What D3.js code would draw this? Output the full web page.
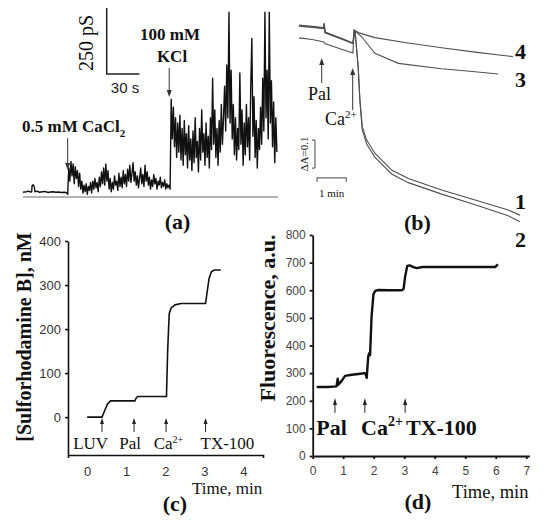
<!DOCTYPE html>
<html><head><meta charset="utf-8">
<script src="https://cdn.jsdelivr.net/npm/d3@7"></script>
<style>body{margin:0;background:#fff}svg{display:block}</style>
</head><body><svg id="chart" width="550" height="523"></svg>
<script>
// ---------- Panel (a): conductance trace (pS vs s) ----------
const aBaseT = [0, 3, 5, 7, 8, 8.2, 8.6, 9.3, 10, 10.5, 10.8, 11, 13, 15, 18, 20, 23, 25, 28, 30, 33, 35, 38, 40, 41];
const aBaseG = [18, 20, 22, 19, 20, 38, 45, 46, 43, 35, 22, 20, 22, 18, 20, 21, 17, 19, 20, 18, 19, 17, 18, 16, 10];
const aLowStart = 42;   // s, one sample per second after CaCl2
const aLow = [110, 60, 135, 80, 125, 50, 115, 70, 100, 40,
  90, 30, 60, 15, 45, 20, 50, 10, 40, 25,
  55, 15, 60, 30, 70, 35, 55, 20, 75, 40,
  95, 50, 110, 45, 125, 60, 100, 30, 70, 20,
  55, 30, 80, 45, 60, 25, 90, 40, 75, 35,
  100, 50, 85, 40, 105, 60, 120, 55, 90, 130,
  60, 95, 45, 80, 35, 70, 110, 50, 85, 40,
  120, 60, 95, 45, 75, 30, 65, 40, 85, 50,
  70, 30, 60, 45, 75, 35, 55, 40, 65, 30,
  50, 35, 45, 30];
const aHighStart = 136; // s, one sample per second after KCl
const aHigh = [370, 220, 340, 190, 300, 150, 280, 170, 310, 140,
  260, 120, 290, 160, 240, 110, 270, 140, 220, 100,
  250, 130, 300, 150, 210, 95, 260, 140, 330, 170,
  240, 120, 280, 150, 230, 110, 300, 180, 450, 200,
  330, 150, 260, 120, 290, 170, 350, 200, 300, 420,
  250, 500, 300, 700, 280, 480, 220, 350, 160, 300,
  140, 260, 180, 470, 200, 330, 120, 280, 160, 350,
  190, 300, 140, 420, 600, 230, 380, 150, 290, 110,
  260, 180, 340, 200, 450, 250, 700, 300, 480, 220,
  700, 280, 440, 190, 360, 130, 300, 170];
const aArrowT = [41, 134.2];
const aArrowFrom = [223, 489];
const aArrowTo = [102, 379];

// ---------- Panel (b): absorbance traces (decrease of A vs min) ----------
const b1T = [0, 0.45, 0.84, 0.86, 0.89, 1.4, 1.84, 1.91, 2.02, 2.08, 2.16, 2.31, 2.59, 3.16, 3.73, 4.87, 6.01, 7.14, 7.54];
const b1A = [0.004, 0.009, 0.013, -0.003, 0.028, 0.048, 0.066, 0.018, 0.149, 0.268, 0.363, 0.411, 0.458, 0.518, 0.548, 0.589, 0.625, 0.661, 0.679];
const b2T = [0, 0.45, 0.84, 0.86, 0.89, 1.4, 1.84, 1.91, 2.02, 2.08, 2.16, 2.31, 2.59, 3.16, 3.73, 4.87, 6.01, 7.14, 7.54];
const b2A = [0.002, 0.007, 0.011, -0.005, 0.027, 0.047, 0.065, 0.018, 0.152, 0.275, 0.375, 0.425, 0.472, 0.532, 0.563, 0.604, 0.642, 0.681, 0.703];
const b3T = [0, 0.45, 0.85, 0.88, 1.4, 1.84, 1.88, 2.14, 2.59, 3.39, 4.87, 6.01, 6.8];
const b3A = [0.046, 0.052, 0.061, 0.066, 0.085, 0.1, 0.018, 0.042, 0.101, 0.137, 0.156, 0.167, 0.175];
const b4T = [0, 0.45, 0.84, 0.86, 0.89, 1.4, 1.84, 1.88, 2.08, 2.59, 3.72, 4.87, 6.01, 7.3];
const b4A = [0, 0.005, 0.009, -0.007, 0.025, 0.046, 0.064, 0.018, 0.029, 0.045, 0.064, 0.081, 0.097, 0.113];
const bTraceLabels = ["1", "2", "3", "4"];
const bLabelA = [0.657, 0.793, 0.221, 0.12];

// ---------- Panel (c): sulforhodamine B release ----------
const cTime = [0, 0.38, 0.45, 0.52, 0.6, 1.22, 1.26, 1.3, 2.03, 2.06, 2.1, 2.15, 2.25, 2.4, 3.03, 3.08, 3.12, 3.18, 3.25, 3.42];
const cVal = [0, 0, 15, 30, 37, 37, 44, 47, 47, 150, 235, 248, 255, 258, 258, 290, 315, 330, 334, 334];
const cYTicks = [0, 100, 200, 300, 400];
const cXTicks = [0, 1, 2, 3, 4];
const cEvents = ["LUV", "Pal", "Ca", "TX-100"];
const cEventT = [0.38, 1.2, 2.02, 3.03];
const cLabelT = [0.09, 1.1, 2.08, 3.59];

// ---------- Panel (d): fluorescence ----------
const dTime = [0.13, 0.5, 0.78, 0.82, 0.84, 0.87, 0.95, 1.06, 1.28, 1.5, 1.7, 1.73, 1.77, 1.82, 1.85, 1.88, 1.93, 1.99, 2.05, 2.15, 2.5, 2.92, 2.98, 3.03, 3.1, 3.18, 3.3, 3.41, 3.6, 4.5, 5.98, 6.07];
const dVal = [250, 250, 252, 280, 258, 262, 272, 290, 294, 297, 300, 298, 283, 360, 372, 365, 505, 585, 598, 601, 600, 600, 605, 650, 688, 690, 684, 680, 684, 684, 684, 694];
const dYTicks = [0, 100, 200, 300, 400, 500, 600, 700, 800];
const dXTicks = [0, 1, 2, 3, 4, 5, 6, 7];
const dEvents = ["Pal", "Ca", "TX-100"];
const dEventT = [0.73, 1.71, 3.03];
const dLabelT = [0.62, 2.27, 4.22];

// ================= drawing =================
const SERIF = "'Liberation Serif','Times New Roman',serif";
const SANS = "'Liberation Sans',Arial,sans-serif";
const svg = d3.select("#chart");
svg.append("rect").attr("width", 550).attr("height", 523).attr("fill", "#fff");
const intFmt = d3.format("d");

function arrow(g, x, yTail, yTip, hl, hw, col, sw) {
  const dir = yTip > yTail ? 1 : -1;
  g.append("line").attr("x1", x).attr("x2", x).attr("y1", yTail).attr("y2", yTip - dir * hl * 0.6)
    .attr("stroke", col).attr("stroke-width", sw);
  g.append("path").attr("d", `M${x},${yTip} L${x - hw / 2},${yTip - dir * hl} L${x + hw / 2},${yTip - dir * hl} Z`)
    .attr("fill", col);
}
function txt(g, x, y, s, size, opts = {}) {
  return g.append("text").attr("x", x).attr("y", y).text(s)
    .attr("font-family", opts.family || SERIF).attr("font-size", size)
    .attr("font-weight", opts.weight || "normal").attr("fill", opts.fill || "#111")
    .attr("text-anchor", opts.anchor || "start");
}

// ---- Panel (a)
{
  const g = svg.append("g");
  const x = d3.scaleLinear().domain([0, 234]).range([23, 278]);
  const y = d3.scaleLinear().domain([0, 746]).range([197, 0]);
  const pts = [];
  aBaseT.forEach((t, i) => pts.push([t, aBaseG[i]]));
  aLow.forEach((v, i) => pts.push([aLowStart + i, v]));
  aHigh.forEach((v, i) => pts.push([aHighStart + i, v]));
  g.append("line").attr("x1", x(0)).attr("x2", x(234)).attr("y1", y(0)).attr("y2", y(0))
    .attr("stroke", "#9a9a9a").attr("stroke-width", 1.5);
  g.append("path").datum(pts).attr("fill", "none").attr("stroke", "#111").attr("stroke-width", 1.4)
    .attr("stroke-linejoin", "round")
    .attr("d", d3.line().x(d => x(d[0])).y(d => y(d[1])));
  // scale bar 30 s / 250 pS
  const sbT = 76.8, sbG = 466;
  g.append("path").attr("d", `M${x(sbT)},${y(sbG + 250)} L${x(sbT)},${y(sbG)} L${x(sbT + 30)},${y(sbG)}`)
    .attr("fill", "none").attr("stroke", "#222").attr("stroke-width", 1.5);
  txt(g, 0, 0, "250 pS", 20, { anchor: "middle" }).attr("x", null).attr("y", null)
    .attr("transform", `translate(${x(sbT) - 14},${(y(sbG + 250) + y(sbG)) / 2 + 2}) rotate(-90)`);
  txt(g, x(sbT + 15) + 2, 92.5, "30 s", 15, { family: SANS, anchor: "middle", fill: "#222" });
  aArrowT.forEach((t, i) => arrow(g, x(t), y(aArrowFrom[i]), y(aArrowTo[i]), 7, 5, "#333", 1));
  const t1 = txt(g, 22, 132, "0.5 mM CaCl", 17, { weight: "bold" });
  t1.append("tspan").attr("dy", 5).attr("font-size", 11).text("2");
  txt(g, 170, 40, "100 mM", 17, { weight: "bold", anchor: "middle" });
  txt(g, 172, 61.5, "KCl", 17, { weight: "bold", anchor: "middle" });
  txt(g, 177.5, 229, "(a)", 22, { weight: "bold", anchor: "middle" });
}

// ---- Panel (b)
{
  const g = svg.append("g");
  const x = d3.scaleLinear().domain([0, 7.5]).range([299, 518.75]);
  const y = d3.scaleLinear().domain([0, 1]).range([25, 305]);
  const line = d3.line().x(d => x(d[0])).y(d => y(d[1]));
  [[b1T, b1A], [b2T, b2A], [b3T, b3A], [b4T, b4A]].forEach(([T, A]) => {
    g.append("path").datum(T.map((t, i) => [t, A[i]])).attr("fill", "none")
      .attr("stroke", "#505050").attr("stroke-width", 1.1).attr("d", line);
  });
  bTraceLabels.forEach((s, i) => txt(g, 515, y(bLabelA[i]), s, 22, { weight: "bold" }));
  // arrows Pal / Ca2+
  arrow(g, x(0.775), y(0.207), y(0.118), 7, 5, "#333", 1);
  arrow(g, x(1.833), y(0.304), y(0.154), 7, 5, "#333", 1);
  txt(g, 308, 100, "Pal", 18);
  const ca = txt(g, 325, 125, "Ca", 18);
  ca.append("tspan").attr("dy", -7).attr("font-size", 11).text("2+");
  // scale bars
  const vx = x(0.546);
  g.append("path").attr("d", `M${vx - 3},${y(0.411)} L${vx},${y(0.411)} L${vx},${y(0.511)} L${vx - 3},${y(0.511)}`)
    .attr("fill", "none").attr("stroke", "#444").attr("stroke-width", 1);
  txt(g, 0, 0, "ΔA=0.1", 11, { anchor: "middle" }).attr("x", null).attr("y", null)
    .attr("transform", `translate(${vx - 7},${y(0.461)}) rotate(-90)`);
  const hy = y(0.546);
  g.append("path").attr("d", `M${x(0.614)},${hy + 4} L${x(0.614)},${hy} L${x(1.614)},${hy} L${x(1.614)},${hy + 4}`)
    .attr("fill", "none").attr("stroke", "#444").attr("stroke-width", 1);
  txt(g, (x(0.614) + x(1.614)) / 2, hy + 19, "1 min", 11, { anchor: "middle" });
  txt(g, 417.5, 230, "(b)", 22, { weight: "bold", anchor: "middle" });
}

// ---- Panel (c)
{
  const g = svg.append("g");
  const x = d3.scaleLinear().domain([-0.49, 4.5]).range([68, 263]);
  const y = d3.scaleLinear().domain([-86, 400]).range([455, 241]);
  const ya = g.append("g").attr("transform", `translate(${x(-0.49)},0)`)
    .call(d3.axisLeft(y).tickValues(cYTicks).tickFormat(intFmt).tickSize(3).tickSizeOuter(0).tickPadding(4));
  const xa = g.append("g").attr("transform", `translate(0,${y(-86)})`)
    .call(d3.axisBottom(x).tickValues(cXTicks).tickFormat(intFmt).tickSize(0).tickSizeOuter(3).tickPadding(12));
  [ya, xa].forEach(a => {
    a.selectAll("path,line").attr("stroke", "#111").attr("stroke-width", 1.6);
    a.selectAll("text").attr("font-family", SANS).attr("font-size", 13).attr("fill", "#333");
  });
  g.append("path").datum(cTime.map((t, i) => [t, cVal[i]])).attr("fill", "none")
    .attr("stroke", "#111").attr("stroke-width", 1.6)
    .attr("d", d3.line().x(d => x(d[0])).y(d => y(d[1])));
  cEventT.forEach(t => arrow(g, x(t), y(-34), y(-2), 6, 4, "#222", 1));
  cEvents.forEach((s, i) => {
    const t = txt(g, x(cLabelT[i]), 448.5, s, 17, { anchor: "middle" });
    if (s === "Ca") t.append("tspan").attr("dy", -6).attr("font-size", 10).text("2+");
  });
  txt(g, 0, 0, "[Sulforhodamine B], nM", 20, { weight: "bold", anchor: "middle" }).attr("x", null).attr("y", null)
    .attr("transform", "translate(31,337) rotate(-90)");
  txt(g, 192, 494, "Time, min", 17);
  txt(g, 175, 511, "(c)", 22, { weight: "bold", anchor: "middle" });
}

// ---- Panel (d)
{
  const g = svg.append("g");
  const x = d3.scaleLinear().domain([0, 7.1]).range([312.7, 529.3]);
  const y = d3.scaleLinear().domain([0, 800]).range([456, 235]);
  const ya = g.append("g").attr("transform", `translate(${x(0)},0)`)
    .call(d3.axisLeft(y).tickValues(dYTicks).tickFormat(intFmt).tickSize(3).tickSizeOuter(0).tickPadding(4));
  const xa = g.append("g").attr("transform", `translate(0,${y(0)})`)
    .call(d3.axisBottom(x).tickValues(dXTicks).tickFormat(intFmt).tickSize(3).tickSizeOuter(0).tickPadding(7));
  [ya, xa].forEach(a => {
    a.selectAll("path,line").attr("stroke", "#111").attr("stroke-width", 1.8);
    a.selectAll("text").attr("font-family", SANS).attr("font-size", 12).attr("fill", "#444");
  });
  g.append("path").datum(dTime.map((t, i) => [t, dVal[i]])).attr("fill", "none")
    .attr("stroke", "#111").attr("stroke-width", 2.4).attr("stroke-linejoin", "round")
    .attr("d", d3.line().x(d => x(d[0])).y(d => y(d[1])));
  dEventT.forEach(t => arrow(g, x(t), y(156), y(210), 7, 4, "#222", 1));
  dEvents.forEach((s, i) => {
    const t = txt(g, x(dLabelT[i]), 435, s, 22, { weight: "bold", anchor: "middle" });
    if (s === "Ca") t.append("tspan").attr("dy", -9).attr("font-size", 14).text("2+");
  });
  txt(g, 0, 0, "Fluorescence, a.u.", 22, { weight: "bold", anchor: "middle" }).attr("x", null).attr("y", null)
    .attr("transform", "translate(275,318) rotate(-90)");
  txt(g, 452, 498, "Time, min", 18.5);
  txt(g, 418, 509, "(d)", 22, { weight: "bold", anchor: "middle" });
}
</script></body></html>
